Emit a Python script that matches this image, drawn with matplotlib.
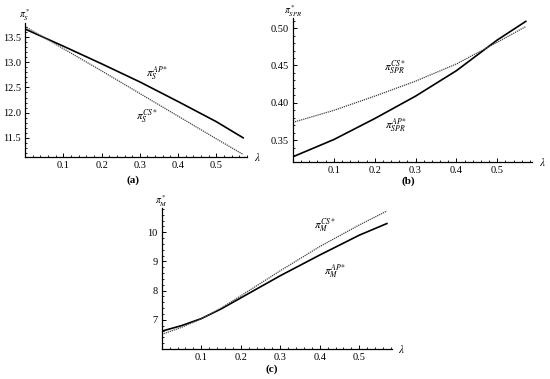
import matplotlib
matplotlib.use("Agg")
import matplotlib.pyplot as plt
from matplotlib.ticker import MultipleLocator, FormatStrFormatter

plt.rcParams['font.family'] = ['Liberation Serif', 'DejaVu Serif']
plt.rcParams['mathtext.fontset'] = 'stix'

# lambda grid
lam = [0.0, 0.1, 0.2, 0.3, 0.4, 0.5, 0.57]
lam_c = [0.0, 0.05, 0.1, 0.15, 0.2, 0.3, 0.4, 0.5, 0.57]

# (a) pi_S
s_ap = [13.66, 13.32, 12.97, 12.61, 12.22, 11.82, 11.50]
s_cs = [13.71, 13.27, 12.83, 12.38, 11.93, 11.48, 11.17]

# (b) pi_SPR
spr_ap = [0.328, 0.351, 0.379, 0.409, 0.443, 0.484, 0.509]
spr_cs = [0.374, 0.390, 0.409, 0.429, 0.452, 0.481, 0.502]

# (c) pi_M
m_ap = [6.61, 6.80, 7.04, 7.37, 7.75, 8.51, 9.22, 9.90, 10.30]
m_cs = [6.50, 6.74, 7.03, 7.40, 7.82, 8.68, 9.51, 10.25, 10.73]

fig = plt.figure(figsize=(5.5, 3.79), dpi=100)


def style(ax, xlim, ylim, ymaj, ymin, yfmt):
    ax.set_xlim(*xlim)
    ax.set_ylim(*ylim)
    for s in ['top', 'right']:
        ax.spines[s].set_visible(False)
    for s in ['left', 'bottom']:
        ax.spines[s].set_linewidth(0.9)
    ax.xaxis.set_major_locator(MultipleLocator(0.1))
    ax.xaxis.set_minor_locator(MultipleLocator(0.02))
    ax.yaxis.set_major_locator(MultipleLocator(ymaj))
    ax.yaxis.set_minor_locator(MultipleLocator(ymin))
    ax.yaxis.set_major_formatter(FormatStrFormatter(yfmt))
    ax.tick_params(which='major', direction='in', length=3, width=0.7, labelsize=7.5, pad=3)
    ax.tick_params(which='minor', direction='in', length=1.6, width=0.6)
    ax.set_xticks([0.1, 0.2, 0.3, 0.4, 0.5])
    ax.patch.set_alpha(0)


# panel (a)
ax1 = fig.add_axes([0.0455, 0.5858, 0.4036, 0.3536])
ax1.plot(lam, s_ap, color='black', lw=1.2)
ax1.plot(lam, s_cs, color='#444444', lw=0.9, ls=(0, (1, 0.7)))
style(ax1, (0, 0.58), (11.12, 13.78), 0.5, 0.1, '%.1f')
ax1.set_yticks([11.5, 12.0, 12.5, 13.0, 13.5])
ax1.text(0.315, 12.72, r'$\pi_S^{AP*}$', fontsize=8)
ax1.text(0.29, 11.86, r'$\pi_S^{CS*}$', fontsize=8)
ax1.text(0, 1.04, r'$\pi_S^*$', transform=ax1.transAxes, fontsize=7, ha='center')
ax1.text(1.03, 0, r'$\lambda$', transform=ax1.transAxes, fontsize=8, va='center')
fig.text(133 / 550, 1 - 183 / 379, '(a)', fontsize=8, ha='center', weight='bold')

# panel (b)
ax2 = fig.add_axes([0.5327, 0.5726, 0.4345, 0.38])
ax2.plot(lam, spr_ap, color='black', lw=1.2)
ax2.plot(lam, spr_cs, color='#444444', lw=0.9, ls=(0, (1, 0.7)))
style(ax2, (0, 0.585), (0.321, 0.5135), 0.05, 0.01, '%.2f')
ax2.set_yticks([0.35, 0.40, 0.45, 0.50])
ax2.text(0.222, 0.443, r'$\pi_{SPR}^{CS*}$', fontsize=8)
ax2.text(0.225, 0.366, r'$\pi_{SPR}^{AP*}$', fontsize=8)
ax2.text(0, 1.03, r'$\pi_{SPR}^*$', transform=ax2.transAxes, fontsize=7, ha='center')
ax2.text(1.03, 0, r'$\lambda$', transform=ax2.transAxes, fontsize=8, va='center')
fig.text(408 / 550, 1 - 184 / 379, '(b)', fontsize=8, ha='center', weight='bold')

# panel (c)
ax3 = fig.add_axes([0.294, 0.0792, 0.418, 0.371])
ax3.plot(lam_c, m_ap, color='black', lw=1.2)
ax3.plot(lam_c, m_cs, color='#444444', lw=0.9, ls=(0, (1, 0.7)))
style(ax3, (0, 0.582), (6.0, 10.82), 1, 0.2, '%d')
ax3.set_yticks([7, 8, 9, 10])
ax3.text(0.385, 10.12, r'$\pi_M^{CS*}$', fontsize=8)
ax3.text(0.41, 8.55, r'$\pi_M^{AP*}$', fontsize=8)
ax3.text(0, 1.03, r'$\pi_M^*$', transform=ax3.transAxes, fontsize=7, ha='center')
ax3.text(1.03, 0, r'$\lambda$', transform=ax3.transAxes, fontsize=8, va='center')
fig.text(272 / 550, 1 - 372 / 379, '(c)', fontsize=8, ha='center', weight='bold')

fig.savefig('out.png', dpi=100)
